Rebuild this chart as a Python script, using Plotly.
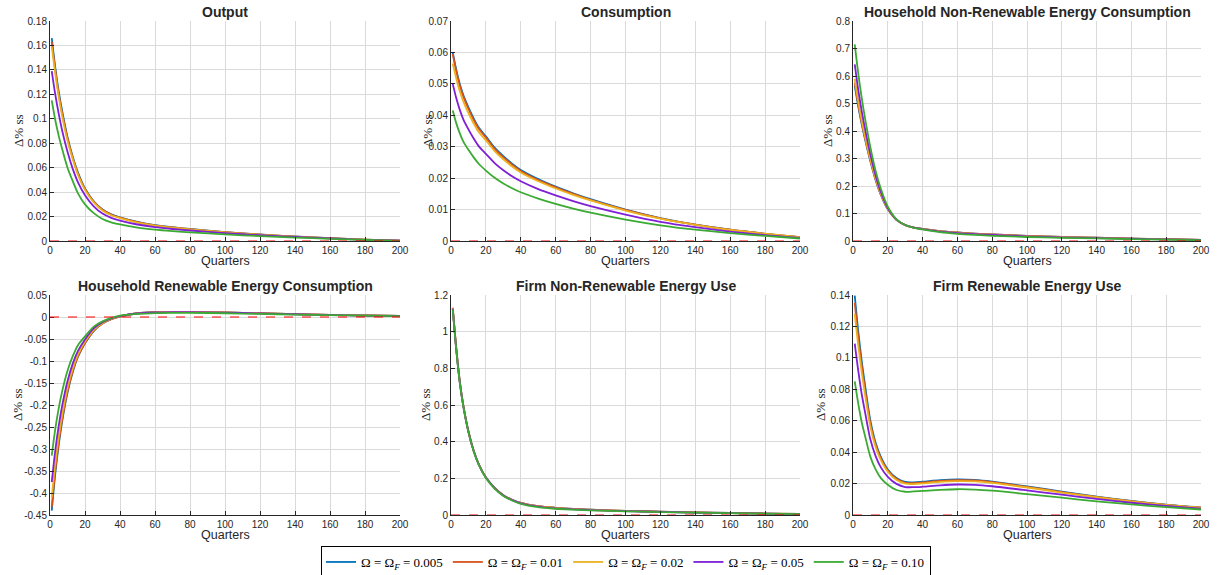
import plotly.graph_objects as go

# ---------------- data ----------------
quarters = [1, 3, 5, 7, 10, 13, 16, 20, 25, 30, 35, 40, 50, 60, 70, 80, 100, 120, 140, 160, 180, 200]

series_names = ["Ω = Ω<sub><i>F</i></sub> = 0.005", "Ω = Ω<sub><i>F</i></sub> = 0.01",
                "Ω = Ω<sub><i>F</i></sub> = 0.02", "Ω = Ω<sub><i>F</i></sub> = 0.05",
                "Ω = Ω<sub><i>F</i></sub> = 0.10"]
series_colors = ["#0072BD", "#D95319", "#EDB120", "#7F1FD6", "#3BAA32"]

panel_titles = ["Output", "Consumption", "Household Non-Renewable Energy Consumption",
                "Household Renewable Energy Consumption", "Firm Non-Renewable Energy Use",
                "Firm Renewable Energy Use"]

output_blue = [0.166, 0.142, 0.122, 0.106, 0.085, 0.069, 0.056, 0.043, 0.0325, 0.0258, 0.0218, 0.0194, 0.0156, 0.013, 0.0113, 0.0098, 0.0073, 0.0053, 0.0037, 0.0023, 0.0011, 0.0002]
output_orange = [0.163, 0.140, 0.120, 0.104, 0.084, 0.068, 0.055, 0.0425, 0.0321, 0.0255, 0.0215, 0.0191, 0.0154, 0.0128, 0.0111, 0.0097, 0.0072, 0.0052, 0.0036, 0.0023, 0.0011, 0.0002]
output_yellow = [0.159, 0.137, 0.118, 0.102, 0.082, 0.067, 0.054, 0.0418, 0.0316, 0.025, 0.0211, 0.0188, 0.0151, 0.0126, 0.0109, 0.0095, 0.0071, 0.0051, 0.0036, 0.0022, 0.0011, 0.0002]
output_purple = [0.139, 0.120, 0.104, 0.090, 0.073, 0.059, 0.048, 0.0375, 0.0284, 0.0224, 0.0189, 0.0167, 0.0135, 0.0113, 0.0098, 0.0086, 0.0064, 0.0047, 0.0033, 0.0021, 0.001, 0.0002]
output_green = [0.115, 0.099, 0.086, 0.075, 0.060, 0.049, 0.039, 0.030, 0.0228, 0.018, 0.0153, 0.0136, 0.011, 0.0093, 0.0081, 0.0071, 0.0054, 0.004, 0.0028, 0.0018, 0.0009, 0.0001]

cons_blue = [0.060, 0.0545, 0.050, 0.0465, 0.0425, 0.039, 0.036, 0.0333, 0.0297, 0.027, 0.0246, 0.0226, 0.0197, 0.0173, 0.0152, 0.0133, 0.0100, 0.0073, 0.0052, 0.0036, 0.0023, 0.0012]
cons_orange = [0.0595, 0.054, 0.0495, 0.046, 0.042, 0.0385, 0.0356, 0.0329, 0.0293, 0.0266, 0.0243, 0.0223, 0.0194, 0.0171, 0.015, 0.0131, 0.0099, 0.0072, 0.0052, 0.0036, 0.0023, 0.0012]
cons_yellow = [0.0565, 0.0518, 0.0477, 0.0445, 0.0407, 0.0374, 0.0346, 0.032, 0.0286, 0.026, 0.0237, 0.0218, 0.019, 0.0167, 0.0147, 0.0129, 0.0097, 0.0071, 0.0051, 0.0035, 0.0023, 0.0012]
cons_purple = [0.050, 0.0455, 0.0418, 0.0388, 0.0355, 0.0326, 0.0301, 0.0277, 0.0248, 0.0225, 0.0206, 0.019, 0.0165, 0.0145, 0.0127, 0.0111, 0.0084, 0.0061, 0.0044, 0.0030, 0.0019, 0.0010]
cons_green = [0.0415, 0.0375, 0.0343, 0.0317, 0.029, 0.0266, 0.0245, 0.0224, 0.0201, 0.0183, 0.0168, 0.0155, 0.0135, 0.0118, 0.0103, 0.009, 0.0068, 0.005, 0.0036, 0.0025, 0.0016, 0.0008]

hhnr_blue = [0.565, 0.49, 0.425, 0.368, 0.29, 0.222, 0.168, 0.115, 0.077, 0.058, 0.049, 0.044, 0.036, 0.031, 0.027, 0.024, 0.019, 0.015, 0.012, 0.009, 0.0065, 0.004]
hhnr_orange = [0.575, 0.497, 0.43, 0.372, 0.293, 0.224, 0.169, 0.116, 0.077, 0.058, 0.049, 0.044, 0.036, 0.031, 0.027, 0.024, 0.019, 0.015, 0.012, 0.009, 0.0065, 0.004]
hhnr_yellow = [0.59, 0.508, 0.438, 0.378, 0.297, 0.227, 0.171, 0.117, 0.077, 0.058, 0.049, 0.044, 0.035, 0.030, 0.026, 0.023, 0.018, 0.0145, 0.0115, 0.0088, 0.0063, 0.004]
hhnr_purple = [0.642, 0.55, 0.472, 0.405, 0.315, 0.238, 0.178, 0.12, 0.078, 0.058, 0.0485, 0.0435, 0.034, 0.029, 0.025, 0.022, 0.017, 0.0135, 0.0108, 0.0083, 0.006, 0.0038]
hhnr_green = [0.715, 0.61, 0.52, 0.443, 0.34, 0.255, 0.19, 0.125, 0.079, 0.058, 0.048, 0.042, 0.032, 0.026, 0.022, 0.019, 0.0145, 0.0115, 0.0092, 0.0071, 0.0052, 0.0034]

hhr_blue = [-0.44, -0.356, -0.29, -0.236, -0.172, -0.125, -0.09, -0.06, -0.032, -0.015, -0.005, 0.001, 0.0085, 0.011, 0.0118, 0.0118, 0.0105, 0.0085, 0.0065, 0.0048, 0.0034, 0.0024]
hhr_orange = [-0.432, -0.35, -0.285, -0.232, -0.169, -0.123, -0.089, -0.059, -0.031, -0.015, -0.005, 0.001, 0.0085, 0.011, 0.0117, 0.0117, 0.0105, 0.0086, 0.0066, 0.0049, 0.0035, 0.0025]
hhr_yellow = [-0.41, -0.333, -0.271, -0.221, -0.161, -0.117, -0.085, -0.056, -0.029, -0.014, -0.004, 0.0015, 0.0083, 0.0107, 0.0114, 0.0115, 0.0103, 0.0084, 0.0065, 0.0048, 0.0034, 0.0024]
hhr_purple = [-0.375, -0.304, -0.247, -0.201, -0.146, -0.106, -0.077, -0.051, -0.026, -0.012, -0.003, 0.002, 0.008, 0.0102, 0.011, 0.011, 0.0099, 0.0081, 0.0062, 0.0046, 0.0033, 0.0023]
hhr_green = [-0.315, -0.255, -0.207, -0.168, -0.122, -0.089, -0.064, -0.044, -0.022, -0.01, -0.002, 0.003, 0.007, 0.009, 0.0095, 0.0095, 0.0085, 0.007, 0.0055, 0.0042, 0.003, 0.0022]

fnr_blue = [1.13, 0.91, 0.73, 0.60, 0.455, 0.35, 0.275, 0.205, 0.148, 0.108, 0.083, 0.066, 0.048, 0.039, 0.033, 0.029, 0.023, 0.018, 0.014, 0.011, 0.008, 0.0055]
fnr_orange = [1.13, 0.91, 0.73, 0.60, 0.455, 0.35, 0.275, 0.205, 0.148, 0.108, 0.083, 0.066, 0.048, 0.039, 0.033, 0.029, 0.023, 0.018, 0.014, 0.011, 0.008, 0.0055]
fnr_yellow = [1.13, 0.91, 0.73, 0.60, 0.455, 0.35, 0.275, 0.205, 0.147, 0.107, 0.082, 0.065, 0.047, 0.038, 0.032, 0.028, 0.022, 0.0175, 0.0137, 0.0107, 0.0078, 0.0054]
fnr_purple = [1.125, 0.906, 0.727, 0.598, 0.454, 0.349, 0.274, 0.204, 0.146, 0.106, 0.081, 0.064, 0.046, 0.036, 0.031, 0.027, 0.0215, 0.017, 0.0133, 0.0104, 0.0076, 0.0052]
fnr_green = [1.12, 0.902, 0.724, 0.595, 0.452, 0.347, 0.272, 0.202, 0.144, 0.104, 0.079, 0.061, 0.043, 0.034, 0.029, 0.025, 0.02, 0.016, 0.0125, 0.0098, 0.0072, 0.005]

fr_blue = [0.1396, 0.117, 0.098, 0.082, 0.060, 0.046, 0.037, 0.029, 0.0235, 0.021, 0.0208, 0.0212, 0.0222, 0.0227, 0.0224, 0.0213, 0.0182, 0.0149, 0.0117, 0.0089, 0.0066, 0.0048]
fr_orange = [0.135, 0.113, 0.095, 0.079, 0.058, 0.0447, 0.036, 0.0283, 0.023, 0.0205, 0.0203, 0.0207, 0.0217, 0.0222, 0.022, 0.0209, 0.0179, 0.0146, 0.0115, 0.0088, 0.0065, 0.0047]
fr_yellow = [0.128, 0.108, 0.091, 0.076, 0.056, 0.0433, 0.0349, 0.0275, 0.0222, 0.0199, 0.0197, 0.0201, 0.0211, 0.0216, 0.0214, 0.0204, 0.0175, 0.0143, 0.0113, 0.0086, 0.0064, 0.0046]
fr_purple = [0.109, 0.092, 0.077, 0.065, 0.048, 0.0375, 0.0303, 0.0243, 0.0198, 0.0178, 0.0177, 0.018, 0.0189, 0.0194, 0.0192, 0.0183, 0.0157, 0.0129, 0.0102, 0.0078, 0.0058, 0.0041]
fr_green = [0.085, 0.071, 0.059, 0.05, 0.037, 0.029, 0.0235, 0.0193, 0.0159, 0.0148, 0.015, 0.0153, 0.016, 0.0164, 0.0162, 0.0155, 0.0133, 0.011, 0.0087, 0.0067, 0.005, 0.0035]

panel_series = [
    [output_blue, output_orange, output_yellow, output_purple, output_green],
    [cons_blue, cons_orange, cons_yellow, cons_purple, cons_green],
    [hhnr_blue, hhnr_orange, hhnr_yellow, hhnr_purple, hhnr_green],
    [hhr_blue, hhr_orange, hhr_yellow, hhr_purple, hhr_green],
    [fnr_blue, fnr_orange, fnr_yellow, fnr_purple, fnr_green],
    [fr_blue, fr_orange, fr_yellow, fr_purple, fr_green],
]

x_ticks = [0, 20, 40, 60, 80, 100, 120, 140, 160, 180, 200]
y_ticks = [
    [0, 0.02, 0.04, 0.06, 0.08, 0.1, 0.12, 0.14, 0.16, 0.18],
    [0, 0.01, 0.02, 0.03, 0.04, 0.05, 0.06, 0.07],
    [0, 0.1, 0.2, 0.3, 0.4, 0.5, 0.6, 0.7, 0.8],
    [-0.45, -0.4, -0.35, -0.3, -0.25, -0.2, -0.15, -0.1, -0.05, 0, 0.05],
    [0, 0.2, 0.4, 0.6, 0.8, 1, 1.2],
    [0, 0.02, 0.04, 0.06, 0.08, 0.1, 0.12, 0.14],
]
y_tick_labels = [
    ["0", "0.02", "0.04", "0.06", "0.08", "0.1", "0.12", "0.14", "0.16", "0.18"],
    ["0", "0.01", "0.02", "0.03", "0.04", "0.05", "0.06", "0.07"],
    ["0", "0.1", "0.2", "0.3", "0.4", "0.5", "0.6", "0.7", "0.8"],
    ["-0.45", "-0.4", "-0.35", "-0.3", "-0.25", "-0.2", "-0.15", "-0.1", "-0.05", "0", "0.05"],
    ["0", "0.2", "0.4", "0.6", "0.8", "1", "1.2"],
    ["0", "0.02", "0.04", "0.06", "0.08", "0.1", "0.12", "0.14"],
]
y_ranges = [[0, 0.18], [0, 0.07], [0, 0.8], [-0.45, 0.05], [0, 1.2], [0, 0.14]]

# ---------------- layout geometry (pixels) ----------------
W, H = 1217, 575
col_px = [(50, 400), (451, 800), (853, 1201)]
row_px = [(21, 241), (295, 515)]
ylabel_x_px = [18, 427, 827, 17, 425, 820]

def px_x(v):
    return v / W

def px_y(v):
    return 1 - v / H

fig = go.Figure()
TXT = "#262626"
sans = "Liberation Sans, Arial, Helvetica, sans-serif"
serif = "Liberation Serif, Times New Roman, serif"

annotations = []
shapes = []
for p in range(6):
    r, c = divmod(p, 3)
    idx = "" if p == 0 else str(p + 1)
    xa, ya = "x" + idx, "y" + idx
    for s in range(5):
        fig.add_trace(go.Scatter(
            x=quarters, y=panel_series[p][s], mode="lines",
            line=dict(color=series_colors[s], width=1.8, shape="spline", smoothing=0.8),
            name=series_names[s], legendgroup=str(s), showlegend=(p == 0),
            xaxis=xa, yaxis=ya, hoverinfo="skip"))
    x0, x1 = col_px[c]
    y0, y1 = row_px[r]
    common = dict(showline=True, linecolor=TXT, linewidth=1, ticks="inside", ticklen=4,
                  tickcolor=TXT, tickwidth=1, showgrid=True, gridcolor="#dadada", gridwidth=1,
                  zeroline=False, tickfont=dict(family=sans, size=10, color=TXT), mirror=False,
                  automargin=False)
    fig.update_layout(**{
        "xaxis" + idx: dict(domain=[px_x(x0), px_x(x1)], range=[0, 200], tickvals=x_ticks,
                           anchor=ya, **common),
        "yaxis" + idx: dict(domain=[px_y(y1), px_y(y0)], range=y_ranges[p], tickvals=y_ticks[p],
                           ticktext=y_tick_labels[p], anchor=xa, **common),
    })
    shapes.append(dict(type="line", xref=xa + " domain", yref=ya, x0=0, x1=1, y0=0, y1=0,
                       line=dict(color="#FF0000", width=1, dash="dash"), layer="above"))
    cx = (x0 + x1) / 2
    annotations.append(dict(text="<b>" + panel_titles[p] + "</b>", xref="paper", yref="paper",
                            x=px_x(cx), y=px_y(y0 - 9), xanchor="center", yanchor="middle",
                            showarrow=False, font=dict(family=sans, size=14, color=TXT)))
    annotations.append(dict(text="Quarters", xref="paper", yref="paper",
                            x=px_x(cx), y=px_y(y1 + 20), xanchor="center", yanchor="middle",
                            showarrow=False, font=dict(family=sans, size=12.5, color=TXT)))
    annotations.append(dict(text="Δ% ss", xref="paper", yref="paper", textangle=-90,
                            x=px_x(ylabel_x_px[p]), y=px_y((y0 + y1) / 2), xanchor="center",
                            yanchor="middle", showarrow=False,
                            font=dict(family=serif, size=13, color=TXT)))

fig.update_layout(
    width=W, height=H, autosize=False,
    margin=dict(l=0, r=0, t=0, b=0, pad=0, autoexpand=False),
    paper_bgcolor="white", plot_bgcolor="white",
    annotations=annotations, shapes=shapes,
    showlegend=True,
    legend=dict(orientation="h", x=px_x(626), xanchor="center", y=px_y(546), yanchor="top",
                bordercolor="#000000", borderwidth=1, bgcolor="white",
                font=dict(family=serif, size=13, color="#000000"), itemwidth=30,
                tracegroupgap=0),
)

fig.write_html("out.html", config={"displayModeBar": False},
               post_script="document.body.style.margin='0';document.body.style.overflow='hidden';")
